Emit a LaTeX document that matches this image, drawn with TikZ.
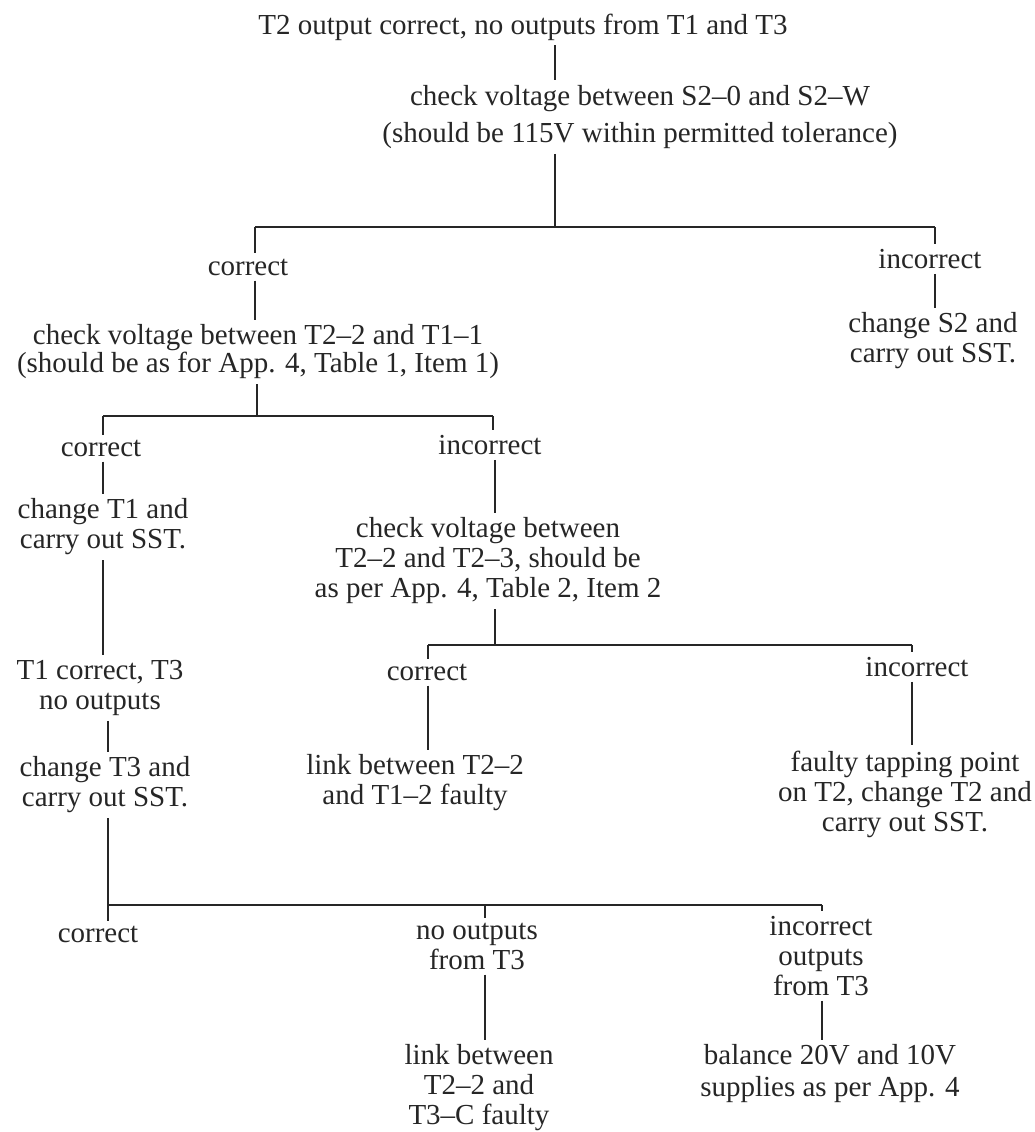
\documentclass[tikz,border=0pt]{standalone}
\usepackage{fontspec}
\setmainfont{Liberation Serif}
\definecolor{ink}{RGB}{38,38,38}
\begin{document}
\begin{tikzpicture}[x=1pt,y=-1pt,
  txt/.style={inner xsep=2pt, inner ysep=5pt, align=center, font=\fontsize{29}{30}\selectfont, text=ink},
  ln/.style={draw=ink, line width=1.1pt}]
\fill[white] (0,0) rectangle (1035,1132);
\useasboundingbox (0,0) rectangle (1035,1132);
% text nodes
\node[txt] (title) at (523,27) {T2 output correct, no outputs from T1 and T3};
\node[txt, font=\fontsize{29}{37}\selectfont] (s2) at (640,117) {check voltage between S2–0 and S2–W\\(should be 115V within permitted tolerance)};
\node[txt] (c1) at (248,267) {correct};
\node[txt] (i1) at (930,259) {incorrect};
\node[txt, font=\fontsize{29}{28}\selectfont] (t1chk) at (258,352) {check voltage between T2–2 and T1–1\\(should be as for App. 4, Table 1, Item 1)};
\node[txt] (chs2) at (933,341) {change S2 and\\carry out SST.};
\node[txt] (c2) at (101,448) {correct};
\node[txt] (i2) at (490,445) {incorrect};
\node[txt] (ch1) at (103,527) {change T1 and\\carry out SST.};
\node[txt] (chk3) at (488,561) {check voltage between\\T2–2 and T2–3, should be\\as per App. 4, Table 2, Item 2};
\node[txt] (t1c) at (100,688) {T1 correct, T3\\no outputs};
\node[txt] (c4) at (427,672) {correct};
\node[txt] (i4) at (917,667) {incorrect};
\node[txt] (lk) at (415,783) {link between T2–2\\and T1–2 faulty};
\node[txt] (ft) at (905,794) {faulty tapping point\\on T2, change T2 and\\carry out SST.};
\node[txt] (ch3) at (105,785) {change T3 and\\carry out SST.};
\node[txt] (c5) at (98,934) {correct};
\node[txt] (no5) at (477,946) {no outputs\\from T3};
\node[txt] (in5) at (821,956) {incorrect\\outputs\\from T3};
\node[txt] (lk5) at (479,1088) {link between\\T2–2 and\\T3–C faulty};
\node[txt, font=\fontsize{29}{32}\selectfont] (bal) at (830,1074) {balance 20V and 10V\\supplies as per App. 4};
% junction coordinates
\coordinate (h1m) at (555,227);
\coordinate (h1l) at (255,227);
\coordinate (h1r) at (935,227);
\coordinate (v2) at (257,416);
\coordinate (h2l) at (103,416);
\coordinate (h2r) at (493,416);
\coordinate (v3) at (495,645);
\coordinate (h4l) at (428,645);
\coordinate (h4r) at (912,645);
\coordinate (h3l) at (108,905);
\coordinate (h3m) at (485,905);
\coordinate (h3r) at (822,905);
% connectors
\draw[ln] (title.south -| h1m) -- (s2.north -| h1m);
\draw[ln] (s2.south -| h1m) -- (h1m);
\draw[ln] (h1l) -- (h1r);
\draw[ln] (h1l) -- (c1.north -| h1l);
\draw[ln] (h1r) -- (i1.north -| h1r);
\draw[ln] (c1.south -| h1l) -- (t1chk.north -| h1l);
\draw[ln] (i1.south -| h1r) -- (chs2.north -| h1r);
\draw[ln] (t1chk.south -| v2) -- (v2);
\draw[ln] (h2l) -- (h2r);
\draw[ln] (h2l) -- (c2.north -| h2l);
\draw[ln] (h2r) -- (i2.north -| h2r);
\draw[ln] (c2.south -| h2l) -- (ch1.north -| h2l);
\draw[ln] (ch1.south -| h2l) -- (t1c.north -| h2l);
\draw[ln] (t1c.south -| h3l) -- (ch3.north -| h3l);
\draw[ln] (ch3.south -| h3l) -- (h3l);
\draw[ln] (h3l) -- (h3r);
\draw[ln] (h3l) -- (c5.north -| h3l);
\draw[ln] (h3m) -- (no5.north -| h3m);
\draw[ln] (h3r) -- (in5.north -| h3r);
\draw[ln] (no5.south -| h3m) -- (lk5.north -| h3m);
\draw[ln] (in5.south -| h3r) -- (bal.north -| h3r);
\draw[ln] (i2.south -| v3) -- (chk3.north -| v3);
\draw[ln] (chk3.south -| v3) -- (v3);
\draw[ln] (h4l) -- (h4r);
\draw[ln] (h4l) -- (c4.north -| h4l);
\draw[ln] (h4r) -- (i4.north -| h4r);
\draw[ln] (c4.south -| h4l) -- (lk.north -| h4l);
\draw[ln] (i4.south -| h4r) -- (ft.north -| h4r);
\end{tikzpicture}
\end{document}
